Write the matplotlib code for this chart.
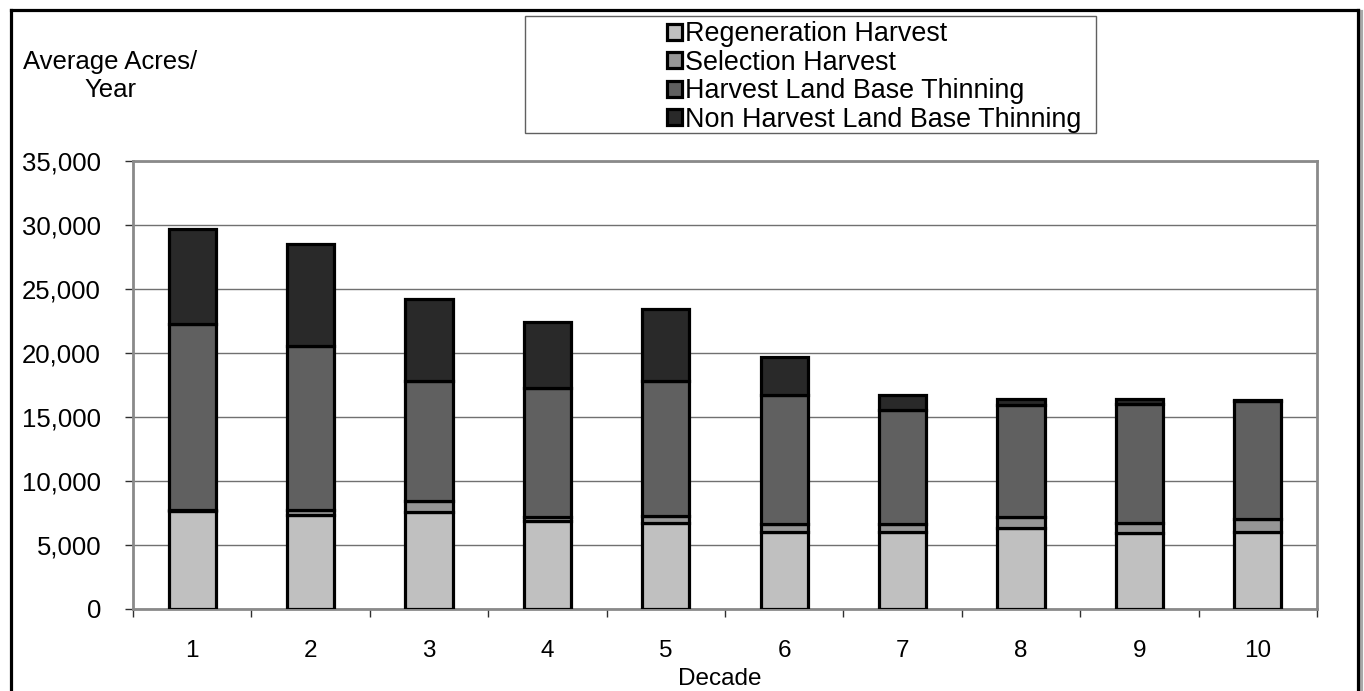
import matplotlib
matplotlib.use("Agg")
import matplotlib.pyplot as plt
from matplotlib.lines import Line2D
from matplotlib.patches import Rectangle
from matplotlib.ticker import FuncFormatter, FixedLocator

plt.rcParams["font.family"] = ["Liberation Sans", "DejaVu Sans"]

# Average acres treated per year, by decade
decades = [1, 2, 3, 4, 5, 6, 7, 8, 9, 10]
regeneration = [7650, 7370, 7600, 6850, 6700, 6000, 6000, 6350, 5900, 6000]
selection = [50, 400, 800, 350, 550, 650, 650, 850, 850, 1000]
hlb_thinning = [14600, 12780, 9400, 10100, 10600, 10100, 8900, 8750, 9300, 9250]
nhlb_thinning = [7400, 7950, 6400, 5150, 5550, 2900, 1200, 450, 350, 100]

series_names = ["Regeneration Harvest", "Selection Harvest",
                "Harvest Land Base Thinning", "Non Harvest Land Base Thinning"]
series_colors = ["#c0c0c0", "#969696", "#606060", "#292929"]

W, H = 1364, 691
fig = plt.figure(figsize=(W / 100, H / 100), dpi=100)

# outer chart frame with a soft shadow on the right
fig.add_artist(Line2D([10.5 / W, 10.5 / W], [0, (H - 9.5) / H], color="black", lw=2.3,
                      transform=fig.transFigure))
fig.add_artist(Line2D([10.5 / W, 1357.5 / W], [(H - 9.5) / H, (H - 9.5) / H], color="black",
                      lw=2.3, transform=fig.transFigure))
fig.add_artist(Line2D([1361 / W, 1361 / W], [0, (H - 12) / H], color="#a8a8a8", lw=3,
                      transform=fig.transFigure))
fig.add_artist(Line2D([1357.5 / W, 1357.5 / W], [0, (H - 9.5) / H], color="black", lw=2.3,
                      transform=fig.transFigure))

ax = fig.add_axes([133 / W, (H - 609) / H, (1317 - 133) / W, (609 - 161) / H])

bottom = [0] * len(decades)
handles = []
for vals, name, col in zip([regeneration, selection, hlb_thinning, nhlb_thinning],
                           series_names, series_colors):
    b = ax.bar(decades, vals, width=0.4, bottom=bottom, color=col, edgecolor="black",
               linewidth=2.3, label=name, zorder=3)
    handles.append(b)
    bottom = [a + v for a, v in zip(bottom, vals)]

ax.set_xlim(0.5, 10.5)
ax.set_ylim(0, 35000)
ax.set_yticks(range(0, 35001, 5000))
ax.yaxis.set_major_formatter(FuncFormatter(lambda v, p: f"{int(v):,}"))
ax.set_xticks(decades)
ax.xaxis.set_minor_locator(FixedLocator([x + 0.5 for x in range(0, 11)]))
ax.tick_params(axis="x", which="major", length=0, pad=22, labelsize=17.5)
ax.tick_params(axis="x", which="minor", length=6, width=1, color="#303030", direction="out")
ax.tick_params(axis="y", which="major", length=6, width=1, color="#303030", pad=17,
               labelsize=18.5)

ax.grid(axis="y", color="#707070", linewidth=1, zorder=0)
ax.set_axisbelow(True)
for s in ax.spines.values():
    s.set_color("#8a8a8a")
    s.set_linewidth(2)

fig.text(720 / W, (H - 679) / H, "Decade", ha="center", va="center", fontsize=17.5)
fig.text(110 / W, (H - 76) / H, "Average Acres/\nYear", ha="center", va="center",
         fontsize=18.5, linespacing=1.25)

# legend box
fig.add_artist(Rectangle((525 / W, (H - 133) / H), (1096 - 525) / W, (133 - 16) / H,
                         transform=fig.transFigure, facecolor="white", edgecolor="#606060",
                         linewidth=1))
leg = fig.legend(handles=handles, labels=series_names, loc="upper left",
                 bbox_to_anchor=(662 / W, (H - 16) / H), frameon=False, fontsize=19.4,
                 handlelength=0.55, handleheight=0.55, handletextpad=0.12, labelspacing=0.09,
                 borderpad=0.2, borderaxespad=0)
for p in leg.get_patches():
    p.set_linewidth(2.3)

fig.savefig("out.png", dpi=100, facecolor="white")
